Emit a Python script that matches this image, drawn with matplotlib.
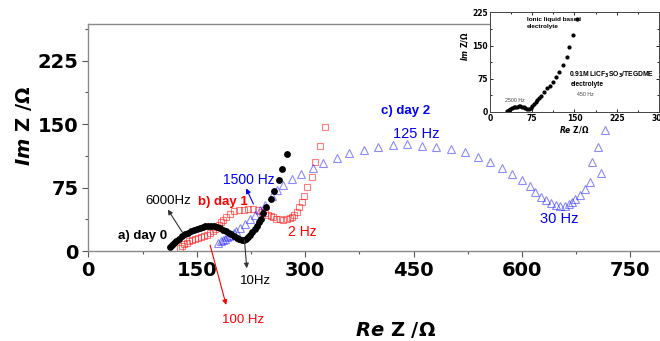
import matplotlib
matplotlib.use('Agg')
import matplotlib.pyplot as plt
from matplotlib.ticker import MultipleLocator

plt.rcParams['font.family'] = ['Liberation Sans', 'DejaVu Sans']
plt.rcParams['mathtext.fontset'] = 'custom'
plt.rcParams['mathtext.it'] = 'DejaVu Sans:italic:bold'
plt.rcParams['mathtext.rm'] = 'DejaVu Sans:bold'
plt.rcParams['mathtext.bf'] = 'DejaVu Sans:bold'

# Nyquist data, Re Z / Im Z in ohm
day0_re = [113, 116, 119, 122, 126, 130, 134, 138, 142, 146, 150, 154, 158, 162, 166, 170,
           174, 178, 182, 186, 190, 194, 198, 202, 206, 209, 212, 215, 218, 221, 224, 227,
           230, 233, 236, 239, 242, 246, 252.5, 257.5, 263.5, 268, 274.5]
day0_im = [5, 7.5, 9.5, 11.5, 14.5, 17.2, 19.6, 21.7, 23.6, 25.2, 26.6, 27.7, 28.6, 29.2,
           29.5, 29.5, 29.0, 28.2, 26.9, 25.4, 23.5, 21.5, 19.6, 17.7, 15.9, 14.6, 13.6,
           13.4, 14.3, 16.4, 19.2, 22.4, 26, 29.8, 34, 38.3, 45, 52, 62, 71, 84, 97, 115]

day1_re = [127, 130, 133, 136, 140, 144, 148, 152, 156, 160, 164, 168, 172, 175, 178, 181,
           184, 187, 191, 196, 202, 209, 215, 221.5, 228, 234.5, 240, 245, 249, 253, 256,
           260, 265, 270, 275, 279, 282, 285, 288.5, 292, 295, 299, 303, 309, 313.5, 320,
           327.5]
day1_im = [4, 6, 8, 10, 11.5, 13, 14.2, 15.3, 16.5, 17.8, 19.5, 21.5, 23.8, 26, 28.5, 31,
           34, 37, 40.5, 44.3, 46.8, 48, 48.8, 49.4, 49.2, 48.4, 46.5, 44.5, 42.5, 41, 39.7,
           38.3, 37.4, 37.2, 37.5, 38.5, 40.5, 43, 46.4, 52, 58, 65, 76, 88, 105, 124, 147]

day2_re = [180, 183, 186, 189, 192, 195, 198, 201, 205, 210, 217, 224, 231, 238, 245, 254,
           261, 270, 281.6, 294, 310.7, 325.4, 344, 361, 380.8, 400.7, 421, 441, 461.6,
           481.5, 501.8, 521.6, 539, 556, 572.4, 586.3, 600, 610.7, 618.5, 626.4, 633.8,
           640.6, 647.6, 653, 659, 664.6, 669.3, 674, 680.8, 686.8, 694.7, 709.5, 697,
           705.3, 714.5]
day2_im = [9.8, 11.5, 13, 14.5, 16, 17.5, 19, 20.8, 23.5, 26.7, 31.8, 37.4, 42.5, 48.4,
           54.3, 65, 72, 77.9, 84.6, 90.5, 98.7, 104.6, 110.5, 116, 120, 123, 125, 126,
           124.7, 123, 120.7, 116.8, 111.3, 105.4, 98.3, 90.8, 83.8, 76.7, 70, 64, 60.2, 57,
           54.7, 53.5, 53.5, 55, 58.2, 61, 66, 72.8, 81.4, 92.4, 105.4, 123, 143.6]

# ionic liquid electrolyte (inset)
il_re = [30, 33, 36, 39, 42, 45, 48, 51, 54, 57, 60, 63, 66, 69, 72, 75, 78, 81, 84, 87,
         90.5, 96, 101.8, 107, 112.4, 117, 123, 129, 136, 140.8, 148, 153.9]
il_im = [3, 5, 7, 8.8, 10.2, 11.3, 12.2, 12.8, 12.9, 12.3, 11, 9, 6.5, 6.5, 10, 14.5, 19,
         23.5, 28, 32.5, 36.7, 45, 53.3, 58.5, 68, 78, 90.7, 106, 123, 147, 174, 209]

fig = plt.figure(figsize=(6.6, 3.41), dpi=100)
ax = fig.add_axes([0.1338, 0.2639, 0.8662, 0.6648])

ax.plot(day1_re, day1_im, ls='none', marker='s', ms=4.3, mfc='none', mec='red',
        mew=0.8, alpha=0.5)
ax.plot(day2_re, day2_im, ls='none', marker='^', ms=5.2, mfc='none', mec='blue',
        mew=0.8, alpha=0.45)
ax.plot(day0_re, day0_im, ls='none', marker='o', ms=3.9, color='black')

ax.set_xlim(0, 791)
ax.set_ylim(0, 268)
ax.xaxis.set_major_locator(MultipleLocator(150))
ax.xaxis.set_minor_locator(MultipleLocator(75))
ax.yaxis.set_major_locator(MultipleLocator(75))
ax.yaxis.set_minor_locator(MultipleLocator(37.5))
ax.tick_params(which='both', direction='out', color='#555555', width=0.8)
ax.tick_params(which='major', length=4, pad=3)
ax.tick_params(which='minor', length=2.5)
for lab in ax.get_xticklabels() + ax.get_yticklabels():
    lab.set_fontfamily('DejaVu Sans')
    lab.set_fontweight('bold')
    lab.set_fontsize(14)
ax.spines['right'].set_visible(False)
for s in ['left', 'top', 'bottom']:
    ax.spines[s].set_color('#8a8a8a')
    ax.spines[s].set_linewidth(1.0)

fig.text(0.036, 0.63, r'$\it{Im}$ Z /Ω', rotation=90, ha='center', va='center',
         fontsize=14, fontweight='bold', family='DejaVu Sans')
fig.text(0.60, 0.004, r'$\it{Re}$ Z /Ω', ha='center', va='bottom',
         fontsize=14, fontweight='bold', family='DejaVu Sans')

# labels and arrows
arr = dict(arrowstyle='-|>', lw=0.8, mutation_scale=7, shrinkA=0, shrinkB=0)
ax.text(75.7, 17.7, 'a) day 0', fontsize=9.5, fontweight='bold', ha='center', va='center')
ax.text(110, 59, '6000Hz', fontsize=9.5, ha='center', va='center')
ax.annotate('', xy=(110, 49), xytext=(131, 21), arrowprops=dict(arr, color='#333333'))
ax.text(186.5, 57.8, 'b) day 1', fontsize=9.5, fontweight='bold', color='red',
        ha='center', va='center')
ax.text(221.5, 83.8, '1500 Hz', fontsize=10, color='blue', ha='center', va='center')
ax.annotate('', xy=(218.4, 74), xytext=(228.5, 55.5), arrowprops=dict(arr, color='blue'))
ax.text(296, 22.8, '2 Hz', fontsize=10, color='red', ha='center', va='center')
ax.text(232, -36, '10Hz', fontsize=9.5, ha='center', va='center', clip_on=False)
ax.annotate('', xy=(219.3, -20.4), xytext=(216, 13), annotation_clip=False,
            arrowprops=dict(arr, color='#333333'))
ax.text(214.6, -81.4, '100 Hz', fontsize=9.5, color='red', ha='center', va='center',
        clip_on=False)
ax.annotate('', xy=(190.7, -63.7), xytext=(168.5, 7), annotation_clip=False,
            arrowprops=dict(arr, color='red'))
ax.text(439, 165.5, 'c) day 2', fontsize=9.5, fontweight='bold', color='blue',
        ha='center', va='center')
ax.text(453.5, 138, '125 Hz', fontsize=10.5, color='blue', ha='center', va='center')
ax.text(651.4, 37.8, '30 Hz', fontsize=10.5, color='blue', ha='center', va='center')

# inset
ins = fig.add_axes([0.7424, 0.6716, 0.2561, 0.2924])
ins.plot(il_re, il_im, ls='none', marker='o', ms=2.0, color='black')
ins.set_xlim(0, 300)
ins.set_ylim(0, 225)
ins.xaxis.set_major_locator(MultipleLocator(75))
ins.xaxis.set_minor_locator(MultipleLocator(37.5))
ins.yaxis.set_major_locator(MultipleLocator(75))
ins.yaxis.set_minor_locator(MultipleLocator(37.5))
ins.tick_params(which='both', direction='in', width=0.6, top=True, right=True,
                labelsize=5.5, pad=1.5)
ins.tick_params(which='major', length=2.5)
ins.tick_params(which='minor', length=1.5)
for lab in ins.get_xticklabels() + ins.get_yticklabels():
    lab.set_fontfamily('DejaVu Sans')
    lab.set_fontweight('bold')
for s in ins.spines.values():
    s.set_linewidth(0.7)
    s.set_color('#444444')
ins.set_xlabel(r'$\it{Re}$ Z/Ω', fontsize=5.5, fontweight='bold', family='DejaVu Sans',
               labelpad=1)
ins.set_ylabel(r'$\it{Im}$ Z/Ω', fontsize=5.5, fontweight='bold', family='DejaVu Sans',
               labelpad=1)
ins.yaxis.set_label_coords(-0.12, 0.66)
ins.text(66, 200, 'Ionic liquid based\nelectrolyte', fontsize=4.6, fontweight='bold',
         ha='left', va='center', linespacing=1.5)
ins.text(141, 83, '0.91M LiCF$_3$SO$_3$/TEGDME', fontsize=4.9, fontweight='bold',
         ha='left', va='center')
ins.text(144, 61, 'electrolyte', fontsize=4.8, fontweight='bold', ha='left', va='center')
ins.text(155, 40, '450 Hz', fontsize=3.8, color='#444444', ha='left', va='center')
ins.text(27, 27, '2500 Hz', fontsize=3.8, color='#444444', ha='left', va='center')

fig.savefig('out.png', dpi=100)
